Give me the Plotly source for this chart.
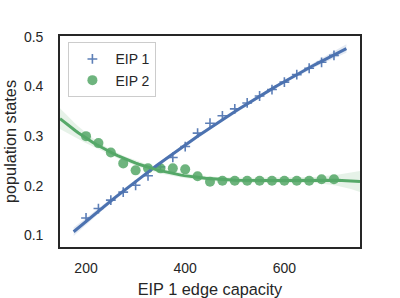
import numpy as np
import plotly.graph_objects as go

# ---- data ----
capacity = [200, 225, 250, 275, 300, 325, 350, 375, 400, 425, 450,
            475, 500, 525, 550, 575, 600, 625, 650, 675, 700]
eip1 = [0.135, 0.154, 0.171, 0.187, 0.201, 0.220, 0.238, 0.257, 0.279, 0.306, 0.326,
        0.341, 0.355, 0.367, 0.381, 0.394, 0.409, 0.424, 0.437, 0.449, 0.463]
eip2 = [0.300, 0.286, 0.267, 0.245, 0.231, 0.235, 0.235, 0.235, 0.233, 0.219, 0.208,
        0.210, 0.210, 0.210, 0.210, 0.210, 0.210, 0.210, 0.210, 0.213, 0.213]
series_names = ["EIP 1", "EIP 2"]
x_title = "EIP 1 edge capacity"
y_title = "population states"
x_ticks = [200, 400, 600]
y_ticks = [0.1, 0.2, 0.3, 0.4, 0.5]

BLUE = "#4C72B0"
GREEN = "#55A868"
TXT = "#262626"
FONT = "Liberation Sans, Arial, sans-serif"
X_RANGE = [147.5, 752.5]
Y_RANGE = [0.0764, 0.502]


def poly_fit(x, y, x0, x1, order, n=100):
    x = np.asarray(x, float)
    y = np.asarray(y, float)
    X = np.vander(x, order + 1)
    beta, *_ = np.linalg.lstsq(X, y, rcond=None)
    resid = y - X @ beta
    dof = len(x) - (order + 1)
    s2 = resid @ resid / dof
    cov = s2 * np.linalg.inv(X.T @ X)
    grid = np.linspace(x0, x1, n)
    G = np.vander(grid, order + 1)
    yhat = G @ beta
    se = np.sqrt(np.einsum("ij,jk,ik->i", G, cov, G))
    t = 2.11
    return grid, yhat, yhat - t * se, yhat + t * se


def rgba(hex_color, a):
    h = hex_color.lstrip("#")
    r, g, b = int(h[0:2], 16), int(h[2:4], 16), int(h[4:6], 16)
    return f"rgba({r},{g},{b},{a})"


gx1, fy1, lo1, hi1 = poly_fit(capacity, eip1, 175, 725, order=2)
gx2, fy2, lo2, hi2 = poly_fit(capacity, eip2, X_RANGE[0], X_RANGE[1], order=3)

fig = go.Figure()

# blue CI band
fig.add_trace(go.Scatter(x=gx1, y=lo1, mode="lines", line=dict(width=0),
                         showlegend=False, hoverinfo="skip"))
fig.add_trace(go.Scatter(x=gx1, y=hi1, mode="lines", line=dict(width=0),
                         fill="tonexty", fillcolor=rgba(BLUE, 0.15),
                         showlegend=False, hoverinfo="skip"))
# blue scatter
fig.add_trace(go.Scatter(x=capacity, y=eip1, mode="markers", name=series_names[0],
                         marker=dict(symbol="cross-thin", size=7, color=BLUE,
                                     line=dict(width=1.6, color=BLUE)),
                         opacity=0.9))
# green scatter
fig.add_trace(go.Scatter(x=capacity, y=eip2, mode="markers", name=series_names[1],
                         marker=dict(symbol="circle", size=10, color=GREEN,
                                     line=dict(width=0)),
                         opacity=0.85))
# green CI band
fig.add_trace(go.Scatter(x=gx2, y=lo2, mode="lines", line=dict(width=0),
                         showlegend=False, hoverinfo="skip"))
fig.add_trace(go.Scatter(x=gx2, y=hi2, mode="lines", line=dict(width=0),
                         fill="tonexty", fillcolor=rgba(GREEN, 0.15),
                         showlegend=False, hoverinfo="skip"))
# fit lines
fig.add_trace(go.Scatter(x=gx1, y=fy1, mode="lines", line=dict(color=BLUE, width=3),
                         showlegend=False, hoverinfo="skip"))
fig.add_trace(go.Scatter(x=gx2, y=fy2, mode="lines", line=dict(color=GREEN, width=3),
                         showlegend=False, hoverinfo="skip"))

axis_common = dict(
    showgrid=False, zeroline=False, showline=True, mirror=True,
    linecolor=TXT, linewidth=1.7, automargin=False,
    ticks="outside", tickcolor="rgba(0,0,0,0)",
    tickfont=dict(family=FONT, size=14, color=TXT),
)

fig.update_layout(
    width=400, height=298,
    margin=dict(l=60, r=40, t=36, b=51, autoexpand=False),
    paper_bgcolor="white", plot_bgcolor="white",
    font=dict(family=FONT, color=TXT),
    showlegend=True,
    legend=dict(
        x=0.028, y=0.97, xanchor="left", yanchor="top",
        traceorder="normal", itemwidth=36,
        bgcolor="rgba(255,255,255,0.8)", bordercolor="#CCCCCC", borderwidth=1,
        font=dict(family=FONT, size=14, color=TXT),
        tracegroupgap=0,
    ),
    xaxis=dict(range=X_RANGE, tickvals=x_ticks, ticklen=7,
               title=dict(text=x_title, font=dict(family=FONT, size=16.3, color=TXT)),
               **axis_common),
    yaxis=dict(range=Y_RANGE, tickvals=y_ticks, ticklen=12, tickformat=".1f",
               title=dict(text=y_title, font=dict(family=FONT, size=16.3, color=TXT),
                          standoff=3),
               **axis_common),
)

fig.write_html("out.html",
               config={"displayModeBar": False},
               post_script="document.body.style.margin='0';document.body.style.padding='0';")
